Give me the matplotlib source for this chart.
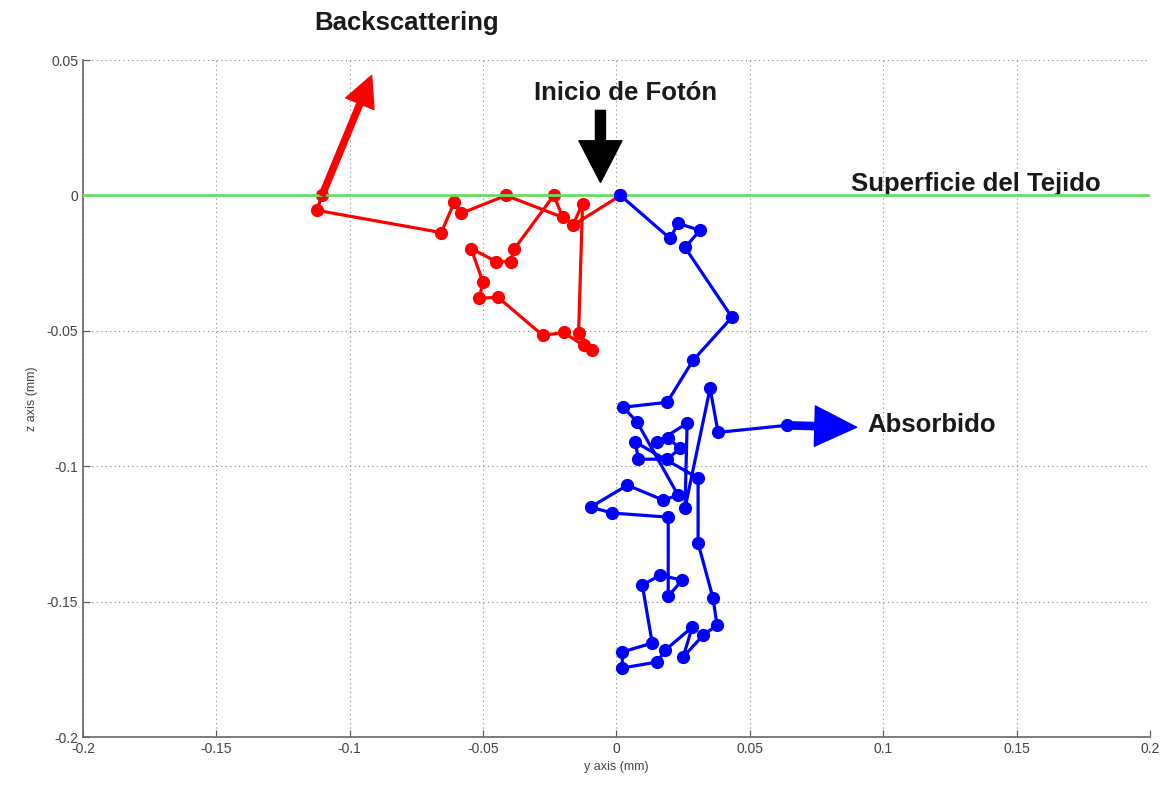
import numpy as np
import matplotlib.pyplot as plt

plt.rcParams['font.family'] = ['Liberation Sans', 'DejaVu Sans']

# backscattered photon (red), from the entry point
red_y = [0.0015, -0.0164, -0.0127, -0.0142, -0.0090, -0.0123, -0.0198, -0.0276,
         -0.0444, -0.0515, -0.0500, -0.0545, -0.0451, -0.0396, -0.0384, -0.0235,
         -0.0201, -0.0414, -0.0582, -0.0608, -0.0657, -0.1123, -0.1104]
red_z = [0.0, -0.0111, -0.0030, -0.0509, -0.0572, -0.0554, -0.0506, -0.0517,
         -0.0376, -0.0380, -0.0321, -0.0196, -0.0244, -0.0244, -0.0199, 0.0,
         -0.0081, 0.0, -0.0066, -0.0026, -0.0137, -0.0055, 0.0]
red_exit = (-0.0918, 0.0443)

# absorbed photon (blue)
blue_y = [0.0015, 0.0201, 0.0231, 0.0313, 0.0257, 0.0433, 0.0287, 0.0190, 0.0026,
          0.0078, 0.0231, 0.0175, 0.0041, -0.0097, -0.0015, 0.0194, 0.0194, 0.0246,
          0.0164, 0.0097, 0.0134, 0.0022, 0.0022, 0.0153, 0.0183, 0.0284, 0.0250,
          0.0325, 0.0377, 0.0362, 0.0306, 0.0306, 0.0071, 0.0082, 0.0190, 0.0239,
          0.0194, 0.0153, 0.0265, 0.0257, 0.0351, 0.0381, 0.0638]
blue_z = [0.0, -0.0159, -0.0103, -0.0129, -0.0192, -0.0450, -0.0609, -0.0764, -0.0782,
          -0.0838, -0.1107, -0.1125, -0.1070, -0.1151, -0.1173, -0.1188, -0.1480, -0.1421,
          -0.1402, -0.1439, -0.1653, -0.1686, -0.1745, -0.1723, -0.1679, -0.1594, -0.1705,
          -0.1624, -0.1587, -0.1487, -0.1284, -0.1044, -0.0911, -0.0974, -0.0974, -0.0934,
          -0.0897, -0.0911, -0.0841, -0.1155, -0.0712, -0.0875, -0.0849]
blue_end = (0.0900, -0.0856)

start_arrow_top = (-0.0060, 0.0314)
start_arrow_tip = (-0.0060, 0.0048)

xticks = [-0.2, -0.15, -0.1, -0.05, 0, 0.05, 0.1, 0.15, 0.2]
xtick_labels = ['-0.2', '-0.15', '-0.1', '-0.05', '0', '0.05', '0.1', '0.15', '0.2']
yticks = [0.05, 0, -0.05, -0.1, -0.15, -0.2]
ytick_labels = ['0.05', '0', '-0.05', '-0.1', '-0.15', '-0.2']

fig = plt.figure(figsize=(11.65, 7.88), dpi=100)
ax = fig.add_axes([0.0712, 0.0647, 0.9159, 0.8591])

ax.plot(red_y, red_z, color='#ff0000', lw=2.3, marker='o', ms=8.5, zorder=3)
ax.axhline(0, color='#66dd66', lw=2, zorder=4)
ax.plot(blue_y, blue_z, color='#0000ff', lw=2.3, marker='o', ms=8.5, zorder=5)

# arrows
ax.annotate('', xy=red_exit, xytext=(red_y[-1], red_z[-1]),
            arrowprops=dict(arrowstyle='simple,head_length=1.1,head_width=1.1,tail_width=0.22',
                            color='#ff0000', shrinkA=0, shrinkB=0, mutation_scale=20), zorder=6)
ax.annotate('', xy=blue_end, xytext=(blue_y[-1], blue_z[-1]),
            arrowprops=dict(arrowstyle='simple,head_length=1.5,head_width=1.45,tail_width=0.26',
                            color='#0000ff', shrinkA=0, shrinkB=0, mutation_scale=20), zorder=6)
ax.annotate('', xy=start_arrow_tip, xytext=start_arrow_top,
            arrowprops=dict(arrowstyle='simple,head_length=1.5,head_width=1.55,tail_width=0.36',
                            color='black', shrinkA=0, shrinkB=0, mutation_scale=20), zorder=6)

# labels
tkw = dict(fontsize=18.5, fontweight='bold', color='#1a1a1a', clip_on=False)
ax.text(-0.0787, 0.0638, 'Backscattering', ha='center', va='center', **tkw)
ax.text(0.0034, 0.038, 'Inicio de Fotón', ha='center', va='center', **tkw)
ax.text(0.1347, 0.0043, 'Superficie del Tejido', ha='center', va='center', **tkw)
ax.text(0.0940, -0.0849, 'Absorbido', ha='left', va='center', **tkw)

ax.set_xlim(-0.2, 0.2)
ax.set_ylim(-0.2, 0.05)
ax.set_xticks(xticks)
ax.set_xticklabels(xtick_labels)
ax.set_yticks(yticks)
ax.set_yticklabels(ytick_labels)
ax.tick_params(direction='in', length=5, color='#555555', labelcolor='#444444', labelsize=10)
ax.grid(True, linestyle=(0, (1, 3)), color='#888888', lw=0.8)
for s in ['top', 'right']:
    ax.spines[s].set_visible(False)
for s in ['left', 'bottom']:
    ax.spines[s].set_color('#666666')
    ax.spines[s].set_linewidth(1.2)

ax.set_xlabel('y axis (mm)', fontsize=9, color='#444444', labelpad=4)
ax.set_ylabel('z axis (mm)', fontsize=9, color='#444444', labelpad=6)

fig.savefig('out.png', dpi=100)
